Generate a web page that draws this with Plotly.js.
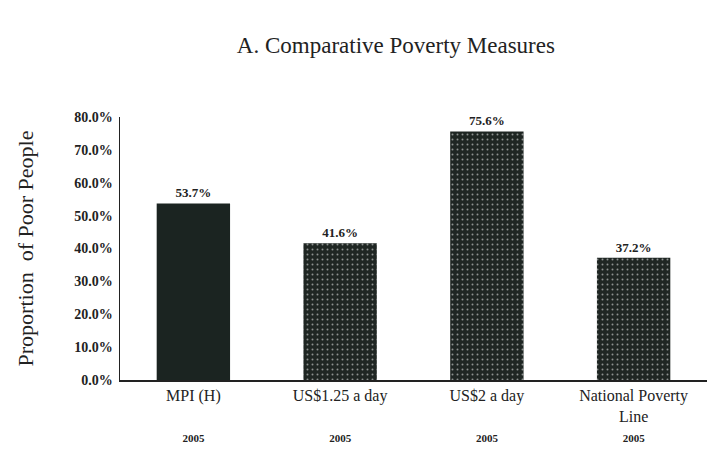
<!DOCTYPE html>
<html>
<head>
<meta charset="utf-8">
<script src="https://cdn.plot.ly/plotly-3.0.1.min.js"></script>
<style>html,body{margin:0;padding:0;background:#fff;}#chart{width:707px;height:451px;}</style>
</head>
<body>
<div id="chart"></div>
<script>
var categories = ["MPI (H)", "US$1.25 a day", "US$2 a day", "National Poverty<br>Line"];
var years = ["2005", "2005", "2005", "2005"];
var values = [53.7, 41.6, 75.6, 37.2];
var labels = ["53.7%", "41.6%", "75.6%", "37.2%"];
var yTicks = [0, 10, 20, 30, 40, 50, 60, 70, 80];
var yTickLabels = ["0.0%", "10.0%", "20.0%", "30.0%", "40.0%", "50.0%", "60.0%", "70.0%", "80.0%"];

var serif = "Liberation Serif, DejaVu Serif, serif";
var tickText = categories.map(function (c, i) {
  var blank = c.indexOf("<br>") >= 0 ? "" : "<br>";
  return c + "<br>" + blank + "<span style='font-size:11px;font-weight:bold'>" + years[i] + "</span>";
});

var trace = {
  type: "bar",
  x: categories,
  y: values,
  text: labels,
  textposition: "outside",
  cliponaxis: false,
  textfont: {family: serif, size: 13, color: "#222", weight: "bold"},
  width: 0.5,
  marker: {
    color: ["#1b2421", "#1f2623", "#1f2623", "#1f2623"],
    line: {width: 0},
    pattern: {shape: ["", ".", ".", "."], fillmode: "overlay", fgcolor: "#8a8e8b", size: 5, solidity: 0.12}
  },
  hoverinfo: "none"
};

var layout = {
  width: 707, height: 451,
  margin: {l: 120, r: 0, t: 117, b: 71},
  paper_bgcolor: "#fff", plot_bgcolor: "#fff",
  showlegend: false,
  title: {text: "A. Comparative Poverty Measures", font: {family: serif, size: 23, color: "#222"}, x: 0.47, xref: "paper", y: 0.9, yanchor: "middle"},
  xaxis: {
    tickmode: "array", tickvals: categories, ticktext: tickText,
    showline: true, linecolor: "#222", linewidth: 1.5,
    showgrid: false, ticks: "", zeroline: false,
    tickfont: {family: serif, size: 16, color: "#222"}
  },
  yaxis: {
    range: [0, 80],
    tickmode: "array", tickvals: yTicks, ticktext: yTickLabels,
    showline: true, linecolor: "#222", linewidth: 1.5,
    showgrid: false, zeroline: false, ticks: "",
    ticklabelstandoff: 3,
    tickfont: {family: serif, size: 14, color: "#222", weight: "bold"},
    title: {text: "Proportion  of Poor People", font: {family: serif, size: 22, color: "#222"}, standoff: 34}
  }
};

Plotly.newPlot("chart", [trace], layout, {staticPlot: true, displayModeBar: false});
</script>
</body>
</html>
